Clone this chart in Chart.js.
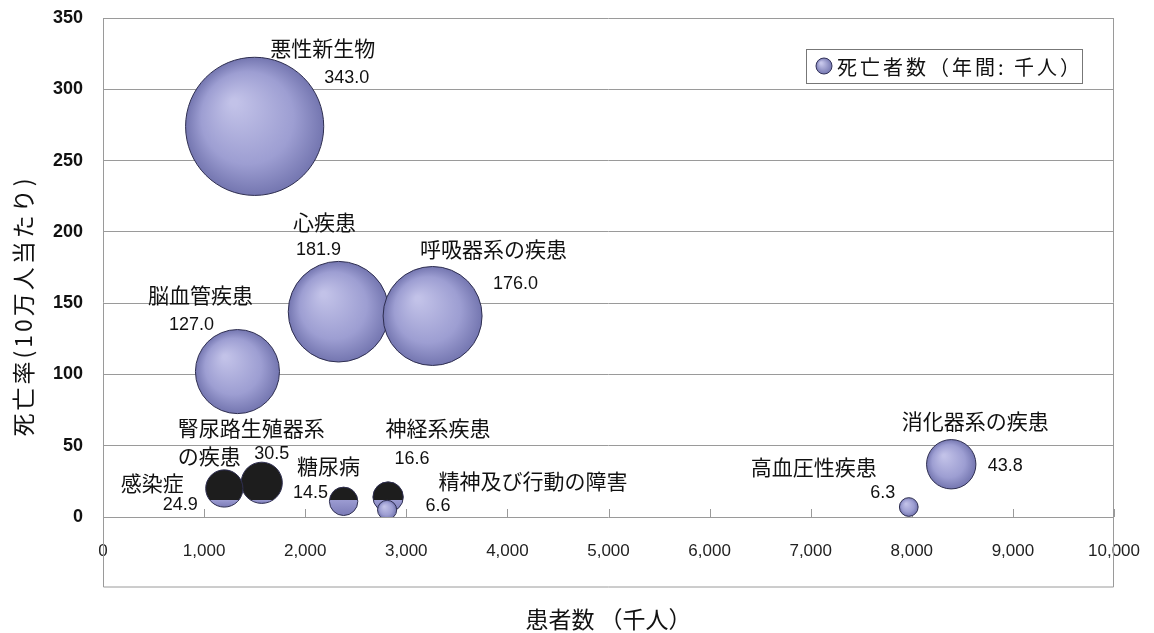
<!DOCTYPE html>
<html>
<head>
<meta charset="utf-8">
<script src="https://cdn.jsdelivr.net/npm/chart.js@4"></script>
<style>
  html, body { margin: 0; padding: 0; background: #fff; }
</style>
</head>
<body>
<canvas id="myChart" width="1154" height="633"></canvas>
<script>
const diseases = ["悪性新生物", "心疾患", "呼吸器系の疾患", "脳血管疾患", "腎尿路生殖器系の疾患", "感染症", "糖尿病", "神経系疾患", "精神及び行動の障害", "高血圧性疾患", "消化器系の疾患"];
const patients = [1500, 2330, 3260, 1330, 1570, 1200, 2380, 2820, 2810, 7970, 8390];
const deathRate = [274, 144, 141, 102, 24, 20, 11, 14, 5, 7, 37];
const deaths = [343.0, 181.9, 176.0, 127.0, 30.5, 24.9, 14.5, 16.6, 6.6, 6.3, 43.8];

const seriesLabel = "死亡者数（年間: 千人）";
const xTitle = "患者数 （千人）";
const yTitle = "死亡率(10万人当たり)";

// label offsets from each bubble centre (px): name, value
const labelPos = [
  { nx: 68, ny: -78, vx: 92, vy: -48 },
  { nx: -14, ny: -90, vx: -20, vy: -62 },
  { nx: 61, ny: -67, vx: 83, vy: -32 },
  { nx: -37, ny: -77, vx: -46, vy: -47 },
  { nx: -84, ny: -55, vx: 10, vy: -29, align: "left", lines: ["腎尿路生殖器系", "の疾患"] },
  { nx: -72, ny: -5, vx: -44, vy: 17 },
  { nx: -15, ny: -35, vx: -33, vy: -8 },
  { nx: 50, ny: -69, vx: 24, vy: -38 },
  { nx: 146, ny: -29, vx: 51, vy: -4 },
  { nx: -95, ny: -40, vx: -26, vy: -14 },
  { nx: 24, ny: -43, vx: 54, vy: 2 },
];
// bubbles that came out dark in the scan
const darkOnes = [4, 5, 6, 7];

const JP = '"Noto Sans CJK JP", sans-serif';
const NUM = '"Liberation Sans", Arial, sans-serif';

function bubbleFill(context) {
  const chart = context.chart;
  if (!chart.chartArea || context.type !== "data") return "#9c9cd0";
  const raw = context.raw;
  const x = chart.scales.x.getPixelForValue(raw.x);
  const y = chart.scales.y.getPixelForValue(raw.y);
  const r = raw.r;
  const c = chart.ctx;
  if (darkOnes.includes(context.dataIndex)) {
    const edge = chart.scales.y.getPixelForValue(12);
    const f = Math.min(1, Math.max(0, (edge - (y - r)) / (2 * r)));
    const g = c.createLinearGradient(0, y - r, 0, y + r);
    g.addColorStop(0, "#1d1d1d");
    g.addColorStop(f, "#1d1d1d");
    g.addColorStop(f, "#9c9cd2");
    g.addColorStop(1, "#7a7ab6");
    return g;
  }
  const g = c.createRadialGradient(x - r * 0.3, y - r * 0.35, r * 0.05, x, y, r);
  g.addColorStop(0, "#c2c2e8");
  g.addColorStop(0.65, "#9d9ed2");
  g.addColorStop(1, "#7476b0");
  return g;
}

const frame = {
  id: "frame",
  beforeDatasetsDraw(chart) {
    const c = chart.ctx;
    const a = chart.chartArea;
    const xs = chart.scales.x;
    c.save();
    c.strokeStyle = "#9a9a9a";
    c.lineWidth = 1;
    c.beginPath();
    c.moveTo(a.left + 0.5, a.top);
    c.lineTo(a.left + 0.5, a.bottom + 70);
    c.lineTo(a.right - 0.5, a.bottom + 70);
    c.lineTo(a.right - 0.5, a.top);
    c.stroke();
    // short tick marks inside the plot
    c.beginPath();
    xs.ticks.forEach(t => {
      const px = Math.round(xs.getPixelForValue(t.value)) + 0.5;
      c.moveTo(px, a.bottom);
      c.lineTo(px, a.bottom - 8);
    });
    c.stroke();
    c.restore();
  },
};

const labels = {
  id: "bubbleLabels",
  afterDatasetsDraw(chart) {
    const c = chart.ctx;
    const meta = chart.getDatasetMeta(0);
    meta.data.forEach((pt, i) => {
      const p = labelPos[i];
      c.save();
      c.fillStyle = "#111";
      c.textBaseline = "middle";
      c.font = "21px " + JP;
      c.textAlign = p.align || "center";
      (p.lines || [diseases[i]]).forEach((line, k) => {
        c.fillText(line, pt.x + p.nx, pt.y + p.ny + k * 28);
      });
      c.font = "18px " + NUM;
      c.textAlign = "center";
      c.fillText(deaths[i].toFixed(1), pt.x + p.vx, pt.y + p.vy);
      c.restore();
    });
  },
  afterDraw(chart) {
    const c = chart.ctx;
    const a = chart.chartArea;
    c.save();
    // y axis title
    c.translate(23, 306);
    c.rotate(-Math.PI / 2);
    c.font = "23px " + JP;
    c.letterSpacing = "3px";
    c.fillStyle = "#111";
    c.textAlign = "center";
    c.textBaseline = "middle";
    c.fillText(yTitle, 0, 0);
    c.restore();

    // legend box
    const lx = a.right - 308, ly = a.top + 31, lw = 276, lh = 34;
    c.save();
    c.fillStyle = "#fff";
    c.fillRect(lx, ly, lw, lh);
    c.strokeStyle = "#777";
    c.lineWidth = 1;
    c.strokeRect(lx + 0.5, ly + 0.5, lw, lh);
    const mx = lx + 18, my = ly + lh / 2, mr = 8;
    const g = c.createRadialGradient(mx - 3, my - 3, 1, mx, my, mr);
    g.addColorStop(0, "#c6c6ea");
    g.addColorStop(1, "#7678b2");
    c.fillStyle = g;
    c.beginPath();
    c.arc(mx, my, mr, 0, Math.PI * 2);
    c.fill();
    c.strokeStyle = "#33335a";
    c.stroke();
    c.fillStyle = "#111";
    c.font = "20px " + JP;
    c.letterSpacing = "3px";
    c.textBaseline = "middle";
    c.fillText(seriesLabel, lx + 31, my + 1);
    c.restore();
  },
};

new Chart(document.getElementById("myChart"), {
  type: "bubble",
  data: {
    datasets: [
      {
        label: seriesLabel,
        data: patients.map((p, i) => ({ x: p, y: deathRate[i], r: 3.73 * Math.sqrt(deaths[i]) })),
        backgroundColor: bubbleFill,
        borderColor: "#2e2e50",
        borderWidth: 1,
      },
    ],
  },
  options: {
    responsive: false,
    animation: false,
    events: [],
    layout: { autoPadding: false, padding: { top: 18, right: 40, left: 0, bottom: 0 } },
    plugins: {
      legend: { display: false },
      tooltip: { enabled: false },
    },
    scales: {
      x: {
        type: "linear",
        min: 0,
        max: 10000,
        ticks: {
          stepSize: 1000,
          padding: 16,
          color: "#222",
          font: { family: NUM, size: 17 },
          callback: v => v.toLocaleString("en-US"),
        },
        grid: { display: false },
        border: { display: false },
        title: {
          display: true,
          text: xTitle,
          color: "#111",
          font: { family: JP, size: 23 },
          padding: { top: 0, bottom: 0 },
        },
        afterFit: s => {
          s.height = 116;
          s.paddingLeft = 0;
          s.paddingRight = 0;
        },
      },
      y: {
        min: 0,
        max: 350,
        ticks: {
          stepSize: 50,
          padding: 20,
          color: "#111",
          font: { family: NUM, size: 18, weight: "bold" },
        },
        grid: { color: "#9a9a9a", drawTicks: false },
        border: { display: false },
        afterFit: s => {
          s.width = 103;
          s.paddingTop = 0;
          s.paddingBottom = 0;
        },
      },
    },
  },
  plugins: [frame, labels],
});
</script>
</body>
</html>
